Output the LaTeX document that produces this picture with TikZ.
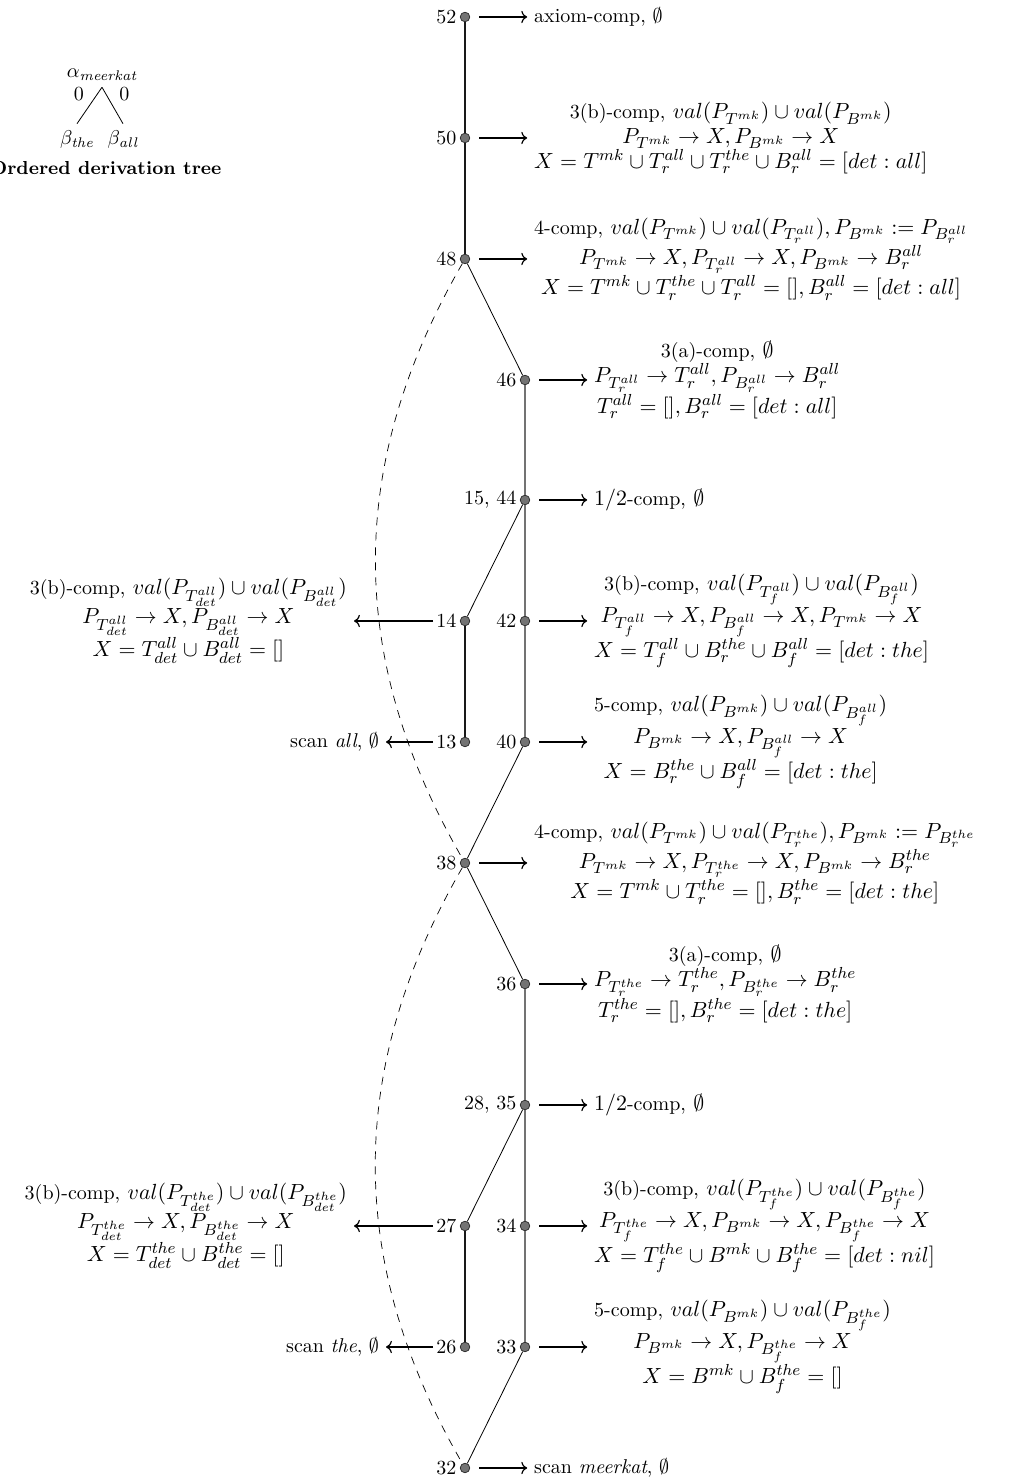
\documentclass[tikz,border=0pt]{standalone}
\usepackage{amssymb}
\usepackage{xcolor}
\usetikzlibrary{arrows.meta,positioning,calc}
\newcommand{\stepname}[1]{{\fontsize{10}{12}\selectfont #1}}
\tikzset{
  deriv dot/.style={circle,fill=black!55,draw=black!85,line width=0.35pt,
    inner sep=0pt,minimum size=4.8pt},
  num label/.style={inner sep=1.5pt},
  step text/.style={align=center,inner sep=3.33pt,
    font=\fontsize{11.4}{12.4}\selectfont},
  scan text/.style={inner sep=3.33pt},
  step arrow/.style={->,line width=0.6pt},
  out arrow/.style={step arrow,shorten <=4.5pt},
  trunk edge/.style={draw=black!90,line width=0.6pt},
  spine edge/.style={draw=black!55,line width=0.9pt},
  cross edge/.style={draw=black,line width=0.4pt},
  link edge/.style={draw=black,line width=0.35pt,dash pattern=on 4pt off 3.5pt}
}

\begin{document}
\begin{tikzpicture}[x=0.5pt,y=0.5pt,node distance=28.5pt]
    \useasboundingbox (0,0) rectangle (1023,1477);

    % ordered derivation tree
    \node[inner sep=3pt] (alpha) at (102,1402) {$\alpha_{\textit{\scriptsize meerkat}}$};
    \node[inner sep=3.5pt] (bthe) at (77,1337) {$\beta_{\textit{\scriptsize the}}$};
    \node[inner sep=3.5pt] (ball) at (123,1337) {$\beta_{\textit{\scriptsize all}}$};
    \draw[cross edge] (alpha.south) -- node[pos=0.2,left=3pt] {0} (bthe.north);
    \draw[cross edge] (alpha.south) -- node[pos=0.2,right=3pt] {0} (ball.north);
    \node[font=\fontsize{9.4}{11}\selectfont\bfseries] (title) at (106,1309) {Ordered derivation tree};

    % derivation steps
    \node[deriv dot,label={[num label]left:52}] (n52) at (465,1460) {};
    \node[deriv dot,label={[num label]left:50}] (n50) at (465,1339) {};
    \node[deriv dot,label={[num label]left:48}] (n48) at (465,1218) {};
    \node[deriv dot,label={[num label]left:46}] (n46) at (525,1097) {};
    \node[deriv dot,label={[num label]left:{15, 44}}] (n44) at (525,977) {};
    \node[deriv dot,label={[num label]left:42}] (n42) at (525,856) {};
    \node[deriv dot,label={[num label,name=l14]left:14}] (n14) at (465,856) {};
    \node[deriv dot,label={[num label]left:40}] (n40) at (525,735) {};
    \node[deriv dot,label={[num label,name=l13]left:13}] (n13) at (465,735) {};
    \node[deriv dot,label={[num label]left:38}] (n38) at (465,614) {};
    \node[deriv dot,label={[num label]left:36}] (n36) at (525,493) {};
    \node[deriv dot,label={[num label]left:{28, 35}}] (n35) at (525,372) {};
    \node[deriv dot,label={[num label]left:34}] (n34) at (525,251) {};
    \node[deriv dot,label={[num label,name=l27]left:27}] (n27) at (465,251) {};
    \node[deriv dot,label={[num label]left:33}] (n33) at (525,130) {};
    \node[deriv dot,label={[num label,name=l26]left:26}] (n26) at (465,130) {};
    \node[deriv dot,label={[num label]left:32}] (n32) at (465,9) {};

    \node[scan text,right=of n52] (t52) {axiom-comp, $\emptyset$};
    \node[step text,right=of n50] (t50) {\stepname{3(b)-comp,} $val(P_{T^{mk}})\cup val(P_{B^{mk}})$\\
      $P_{T^{mk}}\rightarrow X, P_{B^{mk}}\rightarrow X$\\
      $X=T^{mk}\cup T^{all}_r\cup T^{the}_r\cup B^{all}_r=[det:all]$};
    \node[step text,right=of n48] (t48) {\stepname{4-comp,} $val(P_{T^{mk}})\cup val(P_{T^{all}_r}), P_{B^{mk}}:=P_{B^{all}_r}$\\
      $P_{T^{mk}}\rightarrow X, P_{T^{all}_r}\rightarrow X, P_{B^{mk}}\rightarrow B^{all}_r$\\
      $X=T^{mk}\cup T^{the}_r\cup T^{all}_r=[], B^{all}_r=[det:all]$};
    \node[step text,right=of n46] (t46) {\stepname{3(a)-comp,} $\emptyset$\\
      $P_{T^{all}_r}\rightarrow T^{all}_r, P_{B^{all}_r}\rightarrow B^{all}_r$\\
      $T^{all}_r=[], B^{all}_r=[det:all]$};
    \node[step text,right=of n44] (t44) {$1/2$\stepname{-comp,} $\emptyset$};
    \node[step text,right=of n42] (t42) {\stepname{3(b)-comp,} $val(P_{T^{all}_f})\cup val(P_{B^{all}_f})$\\
      $P_{T^{all}_f}\rightarrow X, P_{B^{all}_f}\rightarrow X, P_{T^{mk}}\rightarrow X$\\
      $X=T^{all}_f\cup B^{the}_r\cup B^{all}_f=[det:the]$};
    \node[step text,right=of n40] (t40) {\stepname{5-comp,} $val(P_{B^{mk}})\cup val(P_{B^{all}_f})$\\
      $P_{B^{mk}}\rightarrow X, P_{B^{all}_f}\rightarrow X$\\
      $X=B^{the}_r\cup B^{all}_f=[det:the]$};
    \node[step text,right=of n38] (t38) {\stepname{4-comp,} $val(P_{T^{mk}})\cup val(P_{T^{the}_r}), P_{B^{mk}}:=P_{B^{the}_r}$\\
      $P_{T^{mk}}\rightarrow X, P_{T^{the}_r}\rightarrow X, P_{B^{mk}}\rightarrow B^{the}_r$\\
      $X=T^{mk}\cup T^{the}_r=[], B^{the}_r=[det:the]$};
    \node[step text,right=of n36] (t36) {\stepname{3(a)-comp,} $\emptyset$\\
      $P_{T^{the}_r}\rightarrow T^{the}_r, P_{B^{the}_r}\rightarrow B^{the}_r$\\
      $T^{the}_r=[], B^{the}_r=[det:the]$};
    \node[step text,right=of n35] (t35) {$1/2$\stepname{-comp,} $\emptyset$};
    \node[step text,right=of n34] (t34) {\stepname{3(b)-comp,} $val(P_{T^{the}_f})\cup val(P_{B^{the}_f})$\\
      $P_{T^{the}_f}\rightarrow X, P_{B^{mk}}\rightarrow X, P_{B^{the}_f}\rightarrow X$\\
      $X=T^{the}_f\cup B^{mk}\cup B^{the}_f=[det:nil]$};
    \node[step text,right=of n33] (t33) {\stepname{5-comp,} $val(P_{B^{mk}})\cup val(P_{B^{the}_f})$\\
      $P_{B^{mk}}\rightarrow X, P_{B^{the}_f}\rightarrow X$\\
      $X=B^{mk}\cup B^{the}_f=[]$};
    \node[scan text,right=of n32] (t32) {scan \textit{meerkat}, $\emptyset$};

    \node[step text,left=39.5pt of l14] (t14) {\stepname{3(b)-comp,} $val(P_{T^{all}_{det}})\cup val(P_{B^{all}_{det}})$\\
      $P_{T^{all}_{det}}\rightarrow X, P_{B^{all}_{det}}\rightarrow X$\\
      $X=T^{all}_{det}\cup B^{all}_{det}=[]$};
    \node[scan text,left=23.5pt of l13] (t13) {scan \textit{all}, $\emptyset$};
    \node[step text,left=39.5pt of l27] (t27) {\stepname{3(b)-comp,} $val(P_{T^{the}_{det}})\cup val(P_{B^{the}_{det}})$\\
      $P_{T^{the}_{det}}\rightarrow X, P_{B^{the}_{det}}\rightarrow X$\\
      $X=T^{the}_{det}\cup B^{the}_{det}=[]$};
    \node[scan text,left=23.5pt of l26] (t26) {scan \textit{the}, $\emptyset$};

    \draw[trunk edge] (n52) -- (n50);
    \draw[trunk edge] (n50) -- (n48);
    \draw[cross edge] (n48) -- (n46);
    \draw[spine edge] (n46) -- (n44);
    \draw[spine edge] (n44) -- (n42);
    \draw[spine edge] (n42) -- (n40);
    \draw[cross edge] (n44) -- (n14);
    \draw[trunk edge] (n14) -- (n13);
    \draw[cross edge] (n40) -- (n38);
    \draw[cross edge] (n38) -- (n36);
    \draw[spine edge] (n36) -- (n35);
    \draw[spine edge] (n35) -- (n34);
    \draw[spine edge] (n34) -- (n33);
    \draw[cross edge] (n35) -- (n27);
    \draw[trunk edge] (n27) -- (n26);
    \draw[cross edge] (n33) -- (n32);
    \draw[link edge] (n48) to[bend right=30] (n38);
    \draw[link edge] (n38) to[bend right=30] (n32);

    \foreach \s in {52,50,48,46,44,42,40,38,36,35,34,33,32}
      \draw[out arrow] (n\s) -- (t\s);
    \foreach \s in {14,13,27,26}
      \draw[step arrow] (l\s) -- (t\s);
\end{tikzpicture}
\end{document}
